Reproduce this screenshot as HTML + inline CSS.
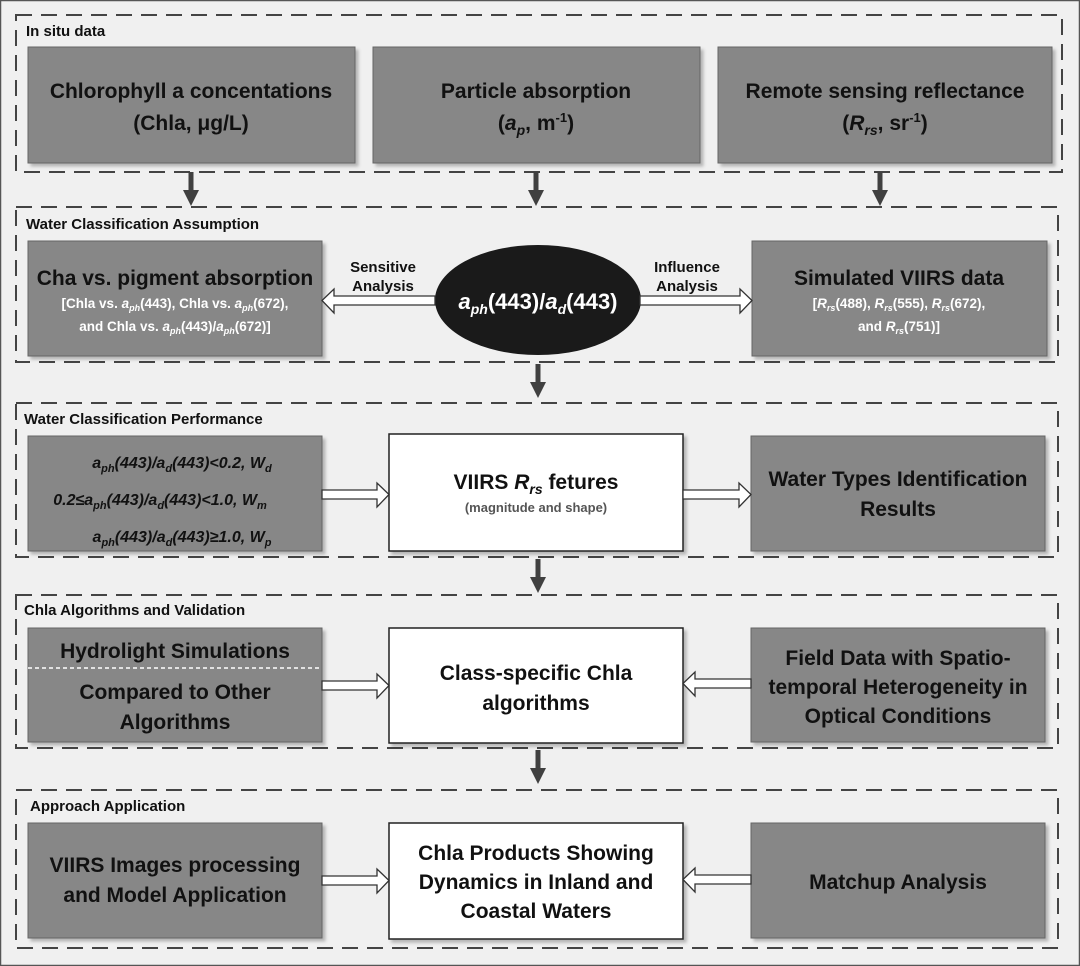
<!DOCTYPE html>
<html><head><meta charset="utf-8"><style>
html,body{margin:0;padding:0;background:#f0f0f0;}
svg{display:block;}
.t{font-family:"Liberation Sans",sans-serif;font-weight:bold;fill:#111;}
.b{font-family:"Liberation Sans",sans-serif;font-weight:bold;fill:#111;text-anchor:middle;}
.w{font-family:"Liberation Sans",sans-serif;font-weight:bold;fill:#fff;text-anchor:middle;}
</style></head><body>
<svg width="1080" height="966" viewBox="0 0 1080 966" xmlns="http://www.w3.org/2000/svg">
<defs>
<filter id="sh" x="-5%" y="-5%" width="115%" height="115%"><feDropShadow dx="3" dy="3" stdDeviation="1.5" flood-color="#000" flood-opacity="0.25"/></filter>
<g id="dn"><rect x="-2.5" y="0" width="5" height="20" fill="#404040"/><polygon points="-8,18 8,18 0,34" fill="#404040"/></g>
</defs>
<rect x="0.5" y="0.5" width="1079" height="965" fill="#f0f0f0" stroke="#555" stroke-width="1.5"/>
<g fill="none" stroke="#444" stroke-width="2" stroke-dasharray="16,9">
<rect x="16" y="15" width="1046" height="157"/>
<rect x="16" y="207" width="1042" height="155"/>
<rect x="16" y="403" width="1042" height="154"/>
<rect x="16" y="595" width="1042" height="153"/>
<rect x="16" y="790" width="1042" height="158"/>
</g>
<g class="t" font-size="15">
<text x="26" y="36">In situ data</text>
<text x="26" y="229">Water Classification Assumption</text>
<text x="24" y="424">Water Classification Performance</text>
<text x="24" y="615">Chla Algorithms and Validation</text>
<text x="30" y="811">Approach Application</text>
</g>
<g fill="#878787" stroke="#666" stroke-width="1" filter="url(#sh)">
<rect x="28" y="47" width="327" height="116"/>
<rect x="373" y="47" width="327" height="116"/>
<rect x="718" y="47" width="334" height="116"/>
<rect x="28" y="241" width="294" height="115"/>
<rect x="752" y="241" width="295" height="115"/>
<rect x="28" y="436" width="294" height="115"/>
<rect x="751" y="436" width="294" height="115"/>
<rect x="28" y="628" width="294" height="114"/>
<rect x="751" y="628" width="294" height="114"/>
<rect x="28" y="823" width="294" height="115"/>
<rect x="751" y="823" width="294" height="115"/>
</g>
<g fill="#fff" stroke="#222" stroke-width="1.5" filter="url(#sh)">
<rect x="389" y="434" width="294" height="117"/>
<rect x="389" y="628" width="294" height="115"/>
<rect x="389" y="823" width="294" height="116"/>
</g>
<ellipse cx="538" cy="300" rx="103" ry="55" fill="#1a1a1a"/>
<line x1="28" y1="668" x2="322" y2="668" stroke="#fff" stroke-width="1.5" stroke-dasharray="4,3"/>
<use href="#dn" x="191" y="172"/><use href="#dn" x="536" y="172"/><use href="#dn" x="880" y="172"/>
<use href="#dn" x="538" y="364"/><use href="#dn" x="538" y="559"/><use href="#dn" x="538" y="750"/>
<g fill="#fff" stroke="#333" stroke-width="1.3">
<polygon points="435,296 334,296 334,289 322,300.5 334,313 334,305 435,305"/>
<polygon points="640,296 740,296 740,289 752,300.5 740,313 740,305 640,305"/>
<polygon points="322,490 377,490 377,483 389,494.5 377,507 377,499 322,499"/>
<polygon points="683,490 739,490 739,483 751,494.5 739,507 739,499 683,499"/>
<polygon points="322,681 377,681 377,674 389,685.5 377,698 377,690 322,690"/>
<polygon points="751,679 695,679 695,672 683,683.5 695,696 695,688 751,688"/>
<polygon points="322,876 377,876 377,869 389,880.5 377,893 377,885 322,885"/>
<polygon points="751,875 695,875 695,868 683,879.5 695,892 695,884 751,884"/>
</g>
<g class="b" font-size="21">
<text x="191" y="98">Chlorophyll a concentations</text>
<text x="191" y="130">(Chla, μg/L)</text>
<text x="536" y="98">Particle absorption</text>
<text x="536" y="130">(<tspan font-style="italic">a<tspan font-size="14" dy="5">p</tspan></tspan><tspan dy="-5">, m</tspan><tspan font-size="13" dy="-8">-1</tspan><tspan dy="8">)</tspan></text>
<text x="885" y="98">Remote sensing reflectance</text>
<text x="885" y="130">(<tspan font-style="italic">R<tspan font-size="14" dy="5">rs</tspan></tspan><tspan dy="-5">, sr</tspan><tspan font-size="13" dy="-8">-1</tspan><tspan dy="8">)</tspan></text>
<text x="175" y="285">Cha vs. pigment absorption</text>
<text x="899" y="285">Simulated VIIRS data</text>
<text x="1040" y="-100"> </text>
<text x="898" y="486">Water Types Identification</text>
<text x="898" y="516">Results</text>
<text x="536" y="489">VIIRS <tspan font-style="italic">R<tspan font-size="14" dy="5">rs</tspan></tspan><tspan dy="-5"> fetures</tspan></text>
<text x="175" y="658">Hydrolight Simulations</text>
<text x="175" y="699">Compared to Other</text>
<text x="175" y="729">Algorithms</text>
<text x="536" y="680">Class-specific Chla</text>
<text x="536" y="710">algorithms</text>
<text x="898" y="665">Field Data with Spatio-</text>
<text x="898" y="694">temporal Heterogeneity in</text>
<text x="898" y="723">Optical Conditions</text>
<text x="175" y="872">VIIRS Images processing</text>
<text x="175" y="902">and Model Application</text>
<text x="536" y="860">Chla Products Showing</text>
<text x="536" y="889">Dynamics in Inland and</text>
<text x="536" y="918">Coastal Waters</text>
<text x="898" y="889">Matchup Analysis</text>
</g>
<text class="b" x="536" y="512" font-size="13" fill="#555" style="fill:#555">(magnitude and shape)</text>
<g class="w" font-size="13.5">
<text x="175" y="308">[Chla vs. <tspan font-style="italic">a<tspan font-size="9" dy="3">ph</tspan></tspan><tspan dy="-3">(443), Chla vs. </tspan><tspan font-style="italic">a<tspan font-size="9" dy="3">ph</tspan></tspan><tspan dy="-3">(672),</tspan></text>
<text x="175" y="331">and Chla vs. <tspan font-style="italic">a<tspan font-size="9" dy="3">ph</tspan></tspan><tspan dy="-3">(443)/</tspan><tspan font-style="italic">a<tspan font-size="9" dy="3">ph</tspan></tspan><tspan dy="-3">(672)]</tspan></text>
<text x="899" y="308">[<tspan font-style="italic">R<tspan font-size="9" dy="3">rs</tspan></tspan><tspan dy="-3">(488), </tspan><tspan font-style="italic">R<tspan font-size="9" dy="3">rs</tspan></tspan><tspan dy="-3">(555), </tspan><tspan font-style="italic">R<tspan font-size="9" dy="3">rs</tspan></tspan><tspan dy="-3">(672),</tspan></text>
<text x="899" y="331">and <tspan font-style="italic">R<tspan font-size="9" dy="3">rs</tspan></tspan><tspan dy="-3">(751)]</tspan></text>
</g>
<text class="w" x="538" y="309" font-size="22"><tspan font-style="italic">a<tspan font-size="14" dy="5">ph</tspan></tspan><tspan dy="-5">(443)/</tspan><tspan font-style="italic">a<tspan font-size="14" dy="5">d</tspan></tspan><tspan dy="-5">(443)</tspan></text>
<g class="b" font-size="15">
<text x="383" y="272">Sensitive</text>
<text x="383" y="291">Analysis</text>
<text x="687" y="272">Influence</text>
<text x="687" y="291">Analysis</text>
</g>
<g class="b" font-size="16" font-style="italic">
<text x="182" y="468">a<tspan font-size="11" dy="4">ph</tspan><tspan dy="-4">(443)/a</tspan><tspan font-size="11" dy="4">d</tspan><tspan dy="-4">(443)&lt;0.2, W</tspan><tspan font-size="11" dy="4">d</tspan></text>
<text x="160" y="505">0.2≤a<tspan font-size="11" dy="4">ph</tspan><tspan dy="-4">(443)/a</tspan><tspan font-size="11" dy="4">d</tspan><tspan dy="-4">(443)&lt;1.0, W</tspan><tspan font-size="11" dy="4">m</tspan></text>
<text x="182" y="542">a<tspan font-size="11" dy="4">ph</tspan><tspan dy="-4">(443)/a</tspan><tspan font-size="11" dy="4">d</tspan><tspan dy="-4">(443)≥1.0, W</tspan><tspan font-size="11" dy="4">p</tspan></text>
</g>
</svg>
</body></html>
